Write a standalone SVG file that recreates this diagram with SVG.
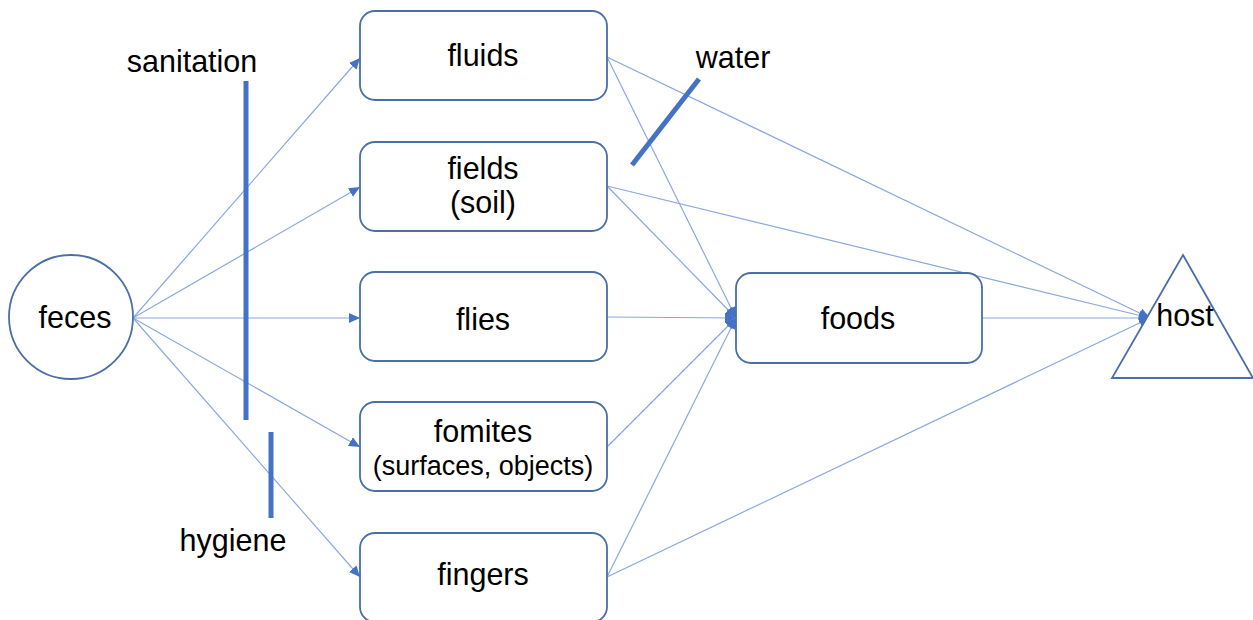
<svg xmlns="http://www.w3.org/2000/svg" width="1253" height="620" viewBox="0 0 1253 620">
<style>
.node{fill:#fff;stroke:#4a6ea8;stroke-width:1.8}
.t{font-family:"Liberation Sans",Arial,sans-serif;font-size:30.5px;fill:#000;text-anchor:middle}
.s{font-size:27px}
.c{stroke:#8aa8e0;stroke-width:1.2;fill:none}
.bar{stroke:#4472c4;stroke-width:5;stroke-linecap:butt}
</style>
<defs>
<marker id="ah" markerUnits="userSpaceOnUse" markerWidth="12" markerHeight="10" refX="11" refY="5" orient="auto">
<path d="M0,0 L11,5 L0,10 z" fill="#4472c4"/>
</marker>
</defs>
<g id="connectors">
<line class="c" x1="133" y1="318" x2="360" y2="58" marker-end="url(#ah)"/>
<line class="c" x1="133" y1="318" x2="360" y2="187" marker-end="url(#ah)"/>
<line class="c" x1="133" y1="318" x2="360" y2="318" marker-end="url(#ah)"/>
<line class="c" x1="133" y1="318" x2="360" y2="447" marker-end="url(#ah)"/>
<line class="c" x1="133" y1="318" x2="360" y2="577" marker-end="url(#ah)"/>
<line class="c" x1="607" y1="57" x2="736" y2="318" marker-end="url(#ah)"/>
<line class="c" x1="607" y1="186" x2="736" y2="318" marker-end="url(#ah)"/>
<line class="c" x1="607" y1="317" x2="736" y2="318" marker-end="url(#ah)"/>
<line class="c" x1="607" y1="447" x2="736" y2="318" marker-end="url(#ah)"/>
<line class="c" x1="607" y1="577" x2="736" y2="318" marker-end="url(#ah)"/>
<line class="c" x1="607" y1="57" x2="1150" y2="318" marker-end="url(#ah)"/>
<line class="c" x1="607" y1="186" x2="1150" y2="318" marker-end="url(#ah)"/>
<line class="c" x1="982" y1="318" x2="1150" y2="318" marker-end="url(#ah)"/>
<line class="c" x1="607" y1="577" x2="1150" y2="318" marker-end="url(#ah)"/>
</g>
<g id="feces">
<circle class="node" cx="71" cy="317" r="62"/>
<text class="t" x="75" y="328">feces</text>
</g>
<g id="fluids">
<rect class="node" x="360" y="11" width="247" height="89" rx="15"/>
<text class="t" x="483" y="66">fluids</text>
</g>
<g id="fields">
<rect class="node" x="360" y="142" width="247" height="89" rx="15"/>
<text class="t" x="483" y="179">fields</text>
<text class="t" x="483" y="213">(soil)</text>
</g>
<g id="flies">
<rect class="node" x="360" y="272" width="247" height="89" rx="15"/>
<text class="t" x="483" y="330">flies</text>
</g>
<g id="fomites">
<rect class="node" x="360" y="402" width="247" height="89" rx="15"/>
<text class="t" x="483" y="442">fomites</text>
<text class="t s" x="483" y="475">(surfaces, objects)</text>
</g>
<g id="fingers">
<rect class="node" x="360" y="533" width="247" height="89" rx="15"/>
<text class="t" x="483" y="585">fingers</text>
</g>
<g id="foods">
<rect class="node" x="736" y="273" width="246" height="90" rx="15"/>
<text class="t" x="858" y="329">foods</text>
</g>
<g id="host">
<polygon class="node" points="1183,255 1253,378 1112,378"/>
<text class="t" x="1185" y="326">host</text>
</g>
<g id="barriers">
<line class="bar" x1="246" y1="81" x2="246" y2="420"/>
<line class="bar" x1="271" y1="432" x2="271" y2="518"/>
<line class="bar" x1="632" y1="165" x2="699" y2="79"/>
<text class="t" x="192" y="72">sanitation</text>
<text class="t" x="233" y="551">hygiene</text>
<text class="t" x="733" y="68">water</text>
</g>
</svg>
